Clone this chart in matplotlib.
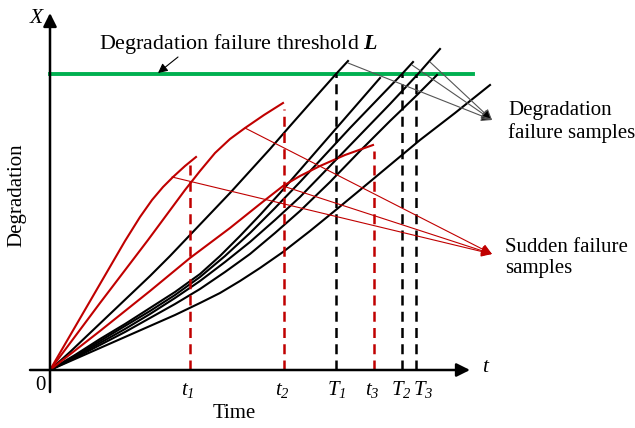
import matplotlib.pyplot as plt

plt.rcParams['font.family'] = 'Liberation Serif'
plt.rcParams['mathtext.fontset'] = 'custom'
plt.rcParams['mathtext.rm'] = 'Liberation Serif:italic'
plt.rcParams['mathtext.it'] = 'Liberation Serif:italic'
plt.rcParams['mathtext.bf'] = 'Liberation Serif:bold:italic'

# degradation paths (time, degradation), black = reach threshold
deg_t = [
    [0, 20, 40, 60, 80, 100, 120, 140, 160, 180, 200, 220, 240, 255, 270, 286, 298],
    [0, 25, 50, 75, 100, 125, 150, 170, 190, 210, 230, 250, 270, 290, 310, 330],
    [0, 25, 50, 75, 100, 125, 150, 175, 200, 225, 250, 275, 300, 326, 352, 363],
    [0, 25, 50, 75, 100, 125, 150, 175, 200, 225, 250, 280, 310, 340, 368, 390],
    [0, 25, 50, 75, 100, 125, 150, 175, 200, 225, 250, 280, 310, 340, 365, 387],
    [0, 25, 50, 75, 100, 125, 150, 170, 190, 210, 233, 260, 287, 310, 340, 370, 405, 440],
]
deg_x = [
    [0, 18, 37, 56, 75, 94, 114, 135, 156, 177, 199, 221, 244, 261, 278, 296, 309],
    [0, 15, 31, 46, 62, 78, 96, 114, 134, 155, 177, 200, 223, 246, 269, 292],
    [0, 14, 29, 44, 59, 75, 93, 114, 137, 162, 188, 215, 242, 269, 296, 308],
    [0, 13, 27, 41, 56, 72, 89, 108, 128, 150, 173, 204, 235, 266, 296, 321],
    [0, 12, 25, 38, 52, 66, 81, 98, 116, 137, 159, 188, 219, 249, 273, 295],
    [0, 11, 22, 33, 44, 55, 67, 77, 89, 102, 118, 139, 161, 180, 205, 230, 257, 285],
]

# sudden failure paths (red)
sud_t = [
    [0, 25, 50, 75, 90, 102, 113, 123, 135, 146],
    [0, 50, 98, 135, 150, 165, 180, 195, 214, 233],
    [0, 50, 100, 140, 180, 210, 233, 250, 270, 295, 323],
]
sud_x = [
    [0, 43, 86, 129, 153, 170, 183, 193, 204, 213],
    [0, 67, 130, 180, 199, 217, 231, 242, 255, 267],
    [0, 39, 79, 112, 142, 166, 184, 194, 204, 215, 225],
]

L = 296
sudden_times = [140, 234, 324]
sudden_labels = [r'$t_1$', r'$t_2$', r'$t_3$']
fail_times = [286, 352, 366]
fail_labels = [r'$T_1$', r'$T_2$', r'$T_3$']
fail_label_pos = [287, 351, 373]

red = '#C00000'
green = '#00B050'
fs = 15

fig = plt.figure(figsize=(6.35, 4.28), dpi=100)
ax = fig.add_axes([0, 0, 1, 1])
ax.set_xlim(-50, 585)
ax.set_ylim(-58, 370)
ax.axis('off')

# axes with arrows
ax.annotate('', xy=(420, 0), xytext=(-20, 0),
            arrowprops=dict(arrowstyle='-|>', lw=1.8, color='black',
                            mutation_scale=20, shrinkA=0, shrinkB=0))
ax.annotate('', xy=(0, 357), xytext=(0, -22),
            arrowprops=dict(arrowstyle='-|>', lw=1.8, color='black',
                            mutation_scale=20, shrinkA=0, shrinkB=0))

# threshold
ax.plot([0, 423], [L, L], color=green, lw=2.8)

for t, x in zip(deg_t, deg_x):
    ax.plot(t, x, color='black', lw=1.5)
for t, x in zip(sud_t, sud_x):
    ax.plot(t, x, color=red, lw=1.5)

# failure time markers
for tt, x in zip(sudden_times, sud_x):
    ax.plot([tt, tt], [0, x[-1] - 6], color=red, lw=1.8, ls=(0, (4, 2.5)))
for tt in fail_times:
    ax.plot([tt, tt], [0, L], color='black', lw=1.8, ls=(0, (4, 2.5)))

for tt, lab in zip(sudden_times, sudden_labels):
    ax.text(tt - 2, -20, lab, fontsize=fs, ha='center', va='center')
for tt, lab in zip(fail_label_pos, fail_labels):
    ax.text(tt, -20, lab, fontsize=fs, ha='center', va='center')

# labels
ax.text(-13, 352, r'$X$', fontsize=15.5, ha='center', va='center')
ax.text(-10, -15, '0', fontsize=fs, ha='center', va='center')
ax.text(436, 2, r'$t$', fontsize=15.5, ha='center', va='center')
ax.text(184, -43, 'Time', fontsize=fs, ha='center', va='center')
ax.text(-33, 175, 'Degradation', fontsize=fs, rotation=90,
        ha='center', va='center')
ax.text(188, 326, r'Degradation failure threshold $\mathbf{L}$',
        fontsize=15.8, ha='center', va='center')
ax.annotate('', xy=(108, 297), xytext=(128, 313),
            arrowprops=dict(arrowstyle='-|>', lw=0.8, color='black',
                            mutation_scale=14, shrinkA=0, shrinkB=0))

# degradation failure sample pointers
ax.text(458, 248, 'Degradation\nfailure samples', fontsize=fs,
        ha='left', va='center', linespacing=1.15)
for src in [(298, 307), (362, 305), (380, 308)]:
    ax.annotate('', xy=(442, 250), xytext=src,
                arrowprops=dict(arrowstyle='-|>', lw=0.8, color='#555555',
                                fc='black', mutation_scale=16,
                                shrinkA=0, shrinkB=0))

# sudden failure sample pointers
ax.text(455, 112, 'Sudden failure\nsamples', fontsize=fs,
        ha='left', va='center', linespacing=1.15)
for src in [(122, 193), (195, 242), (233, 184)]:
    ax.annotate('', xy=(442, 116), xytext=src,
                arrowprops=dict(arrowstyle='-|>', lw=0.8, color=red,
                                mutation_scale=16, shrinkA=0, shrinkB=0))

fig.savefig('out.png', dpi=100)
